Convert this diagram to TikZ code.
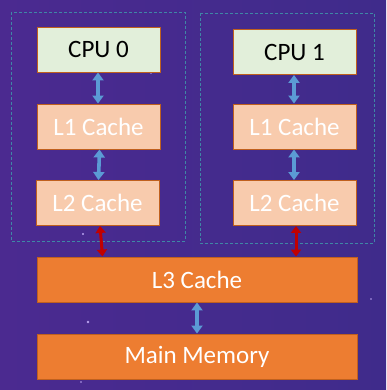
\documentclass[tikz,border=0pt]{standalone}
\usepackage{fontspec}
\setmainfont{Carlito}
\usetikzlibrary{arrows.meta}
\definecolor{bgL}{HTML}{4B2A90}
\definecolor{bgR}{HTML}{3F2B8B}
\definecolor{cpuFill}{HTML}{E2EFDA}
\definecolor{lightOr}{HTML}{F8CBAD}
\definecolor{darkOr}{HTML}{ED7D31}
\definecolor{edgeOr}{HTML}{C0601E}
\definecolor{arrBlue}{HTML}{5B9BD5}
\definecolor{arrRed}{HTML}{C00000}
\definecolor{dashC}{HTML}{3F87A6}
\definecolor{speck}{HTML}{B9A2F0}
\tikzset{
  boxbase/.style={draw=edgeOr, line width=0.9pt, inner sep=0pt, font=\fontsize{25}{28}\selectfont},
  cpubox/.style={boxbase, fill=cpuFill, text=black, minimum width=123pt, minimum height=45pt},
  lbox/.style={boxbase, fill=lightOr, text=white, minimum width=123pt, minimum height=45pt},
  bigbox/.style={boxbase, fill=darkOr, text=white, minimum width=320pt, minimum height=45pt},
  bluearr/.style={draw=arrBlue, line width=3.6pt, {Triangle[width=11pt,length=8pt]}-{Triangle[width=11pt,length=8pt]}},
  redarr/.style={draw=arrRed, line width=3pt, {Triangle[width=10pt,length=7pt]}-{Triangle[width=10pt,length=7pt]}},
  group/.style={draw=dashC, line width=0.7pt, dash pattern=on 3pt off 2pt},
  star/.style={fill=speck, draw=none}
}
\begin{document}
\begin{tikzpicture}[x=1pt,y=-1pt]
\useasboundingbox (0,0) rectangle (386,390);
\shade[left color=bgL, right color=bgR] (0,0) rectangle (386,390);
% decorative specks
\fill[star] (83,234) circle (1.1);
\fill[star] (88,322) circle (1.3);
\fill[star] (269,302) circle (0.9);
\fill[star] (371,299) circle (0.9);
\fill[star] (81,382) circle (0.8);
\fill[star] (151,73) circle (0.8);
% groups
\draw[group] (11,12) rectangle (185,241);
\draw[group] (200,13) rectangle (374,243);
% nodes
\node[cpubox] (cpu0) at (98.5,49.5) {CPU 0};
\node[lbox] (l10) at (98.5,126.5) {L1 Cache};
\node[lbox] (l20) at (97.5,203) {L2 Cache};
\node[cpubox] (cpu1) at (294.5,52) {CPU 1};
\node[lbox] (l11) at (294.5,126.5) {L1 Cache};
\node[lbox] (l21) at (294.5,203) {L2 Cache};
\node[bigbox] (l3) at (197,279.5) {L3 Cache};
\node[bigbox] (mm) at (197,356.5) {Main Memory};
% connectors
\draw[bluearr] ([xshift=-0.5pt]cpu0.south) -- ([xshift=-0.5pt]l10.north);
\draw[bluearr] ([xshift=1pt]l10.south) -- ([xshift=1pt]l20.north);
\draw[bluearr] ([xshift=-0.5pt]cpu1.south) -- ([xshift=-0.5pt]l11.north);
\draw[bluearr] ([xshift=-0.5pt]l11.south) -- ([xshift=-0.5pt]l21.north);
\draw[redarr] ([xshift=2.5pt]l20.south) -- ([xshift=-94.5pt]l3.north);
\draw[redarr] ([xshift=1.5pt]l21.south) -- ([xshift=99pt]l3.north);
\draw[bluearr] (l3.south) -- (mm.north);
\end{tikzpicture}
\end{document}
